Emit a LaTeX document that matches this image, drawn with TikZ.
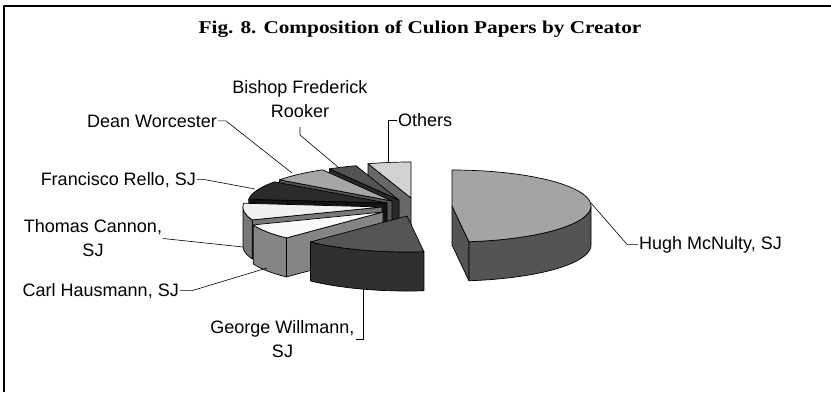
\documentclass[tikz,border=0pt]{standalone}
\usepackage{graphicx}
\usepackage{fontspec}
\setmainfont{Liberation Sans}
\newfontfamily\titlefont{Liberation Serif}
\newcommand{\PA}{139}
\newcommand{\PB}{36}
\newcommand{\PH}{39}
% top face: apex x, apex y, angle1, angle2, fill
\newcommand{\topface}[5]{%
  \filldraw[face, fill=#5] (#1,#2) -- plot[domain=#3:#4, samples=40] ({#1+\PA*cos(\x)},{#2-\PB*sin(\x)}) -- cycle;}
% outer side face
\newcommand{\sideface}[5]{%
  \filldraw[face, fill=#5] plot[domain=#3:#4, samples=40] ({#1+\PA*cos(\x)},{#2-\PB*sin(\x)}) -- plot[domain=#4:#3, samples=40] ({#1+\PA*cos(\x)},{#2+\PH-\PB*sin(\x)}) -- cycle;}
% radial face
\newcommand{\radface}[4]{%
  \filldraw[face, fill=#4] (#1,#2) -- ({#1+\PA*cos(#3)},{#2-\PB*sin(#3)}) -- ++(0,\PH) -- (#1,#2+\PH) -- cycle;}
\definecolor{hughT}{gray}{0.645}
\definecolor{hughS}{gray}{0.33}
\definecolor{georgeT}{gray}{0.335}
\definecolor{georgeS}{gray}{0.19}
\definecolor{carlT}{gray}{0.98}
\definecolor{carlS}{gray}{0.52}
\definecolor{thomasT}{gray}{0.94}
\definecolor{thomasS}{gray}{0.47}
\definecolor{franT}{gray}{0.17}
\definecolor{franS}{gray}{0.08}
\definecolor{deanT}{gray}{0.65}
\definecolor{deanS}{gray}{0.33}
\definecolor{rookT}{gray}{0.325}
\definecolor{rookS}{gray}{0.16}
\definecolor{othT}{gray}{0.824}
\definecolor{othS}{gray}{0.41}
\begin{document}
\begin{tikzpicture}[x=1pt,y=-1pt, line join=round,
  face/.style={draw=black, line width=0.7pt},
  lbl/.style={font=\fontsize{18}{24}\selectfont, inner sep=1pt, align=center},
  leader/.style={draw=black, line width=0.6pt}]
\useasboundingbox (0,0) rectangle (831,392);
\fill[white] (0,0) rectangle (831,392);
\draw[line width=1.6pt] (4,392) -- (4,6) -- (831,6);

\node[anchor=base, inner sep=0pt] (title) at (420,33)
  {\titlefont\bfseries\fontsize{18}{22}\selectfont\scalebox{1.18}[1]{Fig. 8. Composition of Culion Papers by Creator}};

% ---- pie slices, back to front ----
% Others
\radface{411}{198}{108}{othS}
\topface{411}{198}{90}{108}{othT}
% Bishop Frederick Rooker
\radface{399}{200}{120}{rookS}
\topface{399}{200}{108}{120}{rookT}
% Dean Worcester
\radface{392}{201}{144}{deanS}
\topface{392}{201}{120}{144}{deanT}
% Francisco Rello
\radface{387}{203}{174}{franS}
\topface{387}{203}{144}{174}{franT}
% Thomas Cannon
\radface{382}{207}{201}{thomasS}
\sideface{382}{207}{180}{201}{thomasS}
\topface{382}{207}{174}{201}{thomasT}
% Carl Hausmann
\radface{383}{212}{226}{carlS}
\sideface{383}{212}{201}{226}{carlS}
\topface{383}{212}{201}{226}{carlT}
% George Willmann
\sideface{407}{216}{226}{277}{georgeS}
\topface{407}{216}{226}{277}{georgeT}
% Hugh McNulty
\radface{452}{206}{277}{hughS}
\sideface{452}{206}{277}{360}{hughS}
\topface{452}{206}{277}{450}{hughT}

% ---- labels ----
\node[lbl] (bishop) at (300,99) {Bishop Frederick\\Rooker};
\node[lbl, anchor=base east] (dean) at (218,127) {Dean Worcester};
\node[lbl, anchor=base east] (francisco) at (197,185) {Francisco Rello, SJ};
\node[lbl, anchor=base west] (others) at (397,126.5) {Others};
\node[lbl] (thomas) at (93,238.5) {Thomas Cannon,\\SJ};
\node[lbl, anchor=base east] (carl) at (180,296) {Carl Hausmann, SJ};
\node[lbl] (george) at (282.5,339) {George Willmann,\\SJ};
\node[lbl, anchor=base west] (hugh) at (638,249) {Hugh McNulty, SJ};

% ---- leader points ----
\coordinate (deank) at (226,122);
\coordinate (deanp) at (292,173);
\coordinate (rka) at (300,127);
\coordinate (rkb) at (300,135);
\coordinate (rkp) at (338,167);
\coordinate (othp) at (388,162);
\coordinate (frank) at (205,179);
\coordinate (franp) at (255,189);
\coordinate (thp) at (243,247);
\coordinate (carlk) at (192,288);
\coordinate (carlp) at (267,268);
\coordinate (gk) at (363,340);
\coordinate (gp) at (363,289);
\coordinate (hk) at (627,242);
\coordinate (hp) at (591,203);

\draw[leader] (dean.east) -- (dean.east -| deank) -- (deanp);
\draw[leader] (bishop.south |- rka) -- (bishop.south |- rkb) -- (rkp);
\draw[leader] (others.west) -| (othp);
\draw[leader] (francisco.east) -- (francisco.east -| frank) -- (franp);
\draw[leader] (thomas.east) -- (thp);
\draw[leader] (carl.east) -- (carl.east -| carlk) -- (carlp);
\draw[leader] (george.east) -- (george.east -| gk) -- (gp);
\draw[leader] (hugh.west) -- (hugh.west -| hk) -- (hp);
\end{tikzpicture}
\end{document}
